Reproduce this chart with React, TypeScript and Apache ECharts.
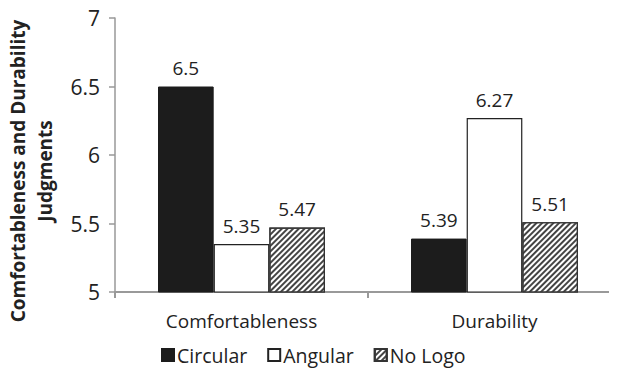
import React, { useEffect, useRef } from "react";
import * as echarts from "echarts";

const categories = ["Comfortableness", "Durability"];
const seriesNames = ["Circular", "Angular", "No Logo"];
const circular = [6.5, 5.39];
const angular = [5.35, 6.27];
const noLogo = [5.47, 5.51];
const yTicks = [5, 5.5, 6, 6.5, 7];
const yTitle = "Comfortableness and Durability\nJudgments";

const FONT = "'Open Sans', 'Liberation Sans', sans-serif";

export default function App() {
  const ref = useRef<HTMLDivElement>(null);
  useEffect(() => {
    if (!ref.current) return;
    const chart = echarts.init(ref.current, undefined, { renderer: "svg" });
    const labelCfg = {
      show: true,
      position: "top" as const,
      distance: 9,
      fontSize: 19,
      color: "#222",
      fontFamily: FONT,
    };
    chart.setOption({
      animation: false,
      textStyle: { fontFamily: FONT },
      legend: {
        bottom: 10,
        left: 156,
        itemWidth: 12,
        itemHeight: 12,
        itemGap: 20,
        icon: "rect",
        textStyle: { fontSize: 19.5, color: "#222", fontFamily: FONT, padding: [0, 0, 0, -2] },
        data: seriesNames,
      },
      grid: { left: 115, top: 18, width: 506, height: 274, containLabel: false, outerBoundsMode: "none" },
      graphic: [
        {
          type: "text",
          x: 31,
          y: 171,
          rotation: Math.PI / 2,
          style: {
            text: yTitle,
            fontSize: 19,
            fontWeight: "bold",
            fill: "#222",
            fontFamily: FONT,
            lineHeight: 27,
            align: "center",
            verticalAlign: "middle",
          },
        },
      ],
      xAxis: {
        type: "category",
        data: categories,
        axisLine: { show: true, lineStyle: { color: "#999", width: 2 } },
        axisTick: { show: true, length: 6, lineStyle: { color: "#999", width: 2 } },
        axisLabel: { fontSize: 19, color: "#222", margin: 19, fontFamily: FONT },
      },
      yAxis: {
        type: "value",
        min: yTicks[0],
        max: yTicks[yTicks.length - 1],
        interval: 0.5,
        axisLine: { show: true, lineStyle: { color: "#999", width: 1.5 } },
        axisTick: { show: true, length: 6, lineStyle: { color: "#999", width: 1.5 } },
        splitLine: { show: false },
        axisLabel: { fontSize: 21, color: "#222", margin: 15, fontFamily: FONT },
      },
      series: [
        {
          name: seriesNames[0],
          type: "bar",
          data: circular,
          barWidth: "22%",
          barGap: "0%",
          itemStyle: { color: "#1c1c1c", borderColor: "#1c1c1c", borderWidth: 1 },
          label: labelCfg,
        },
        {
          name: seriesNames[1],
          type: "bar",
          data: angular,
          barWidth: "22%",
          barGap: "0%",
          itemStyle: { color: "#ffffff", borderColor: "#222", borderWidth: 1.2 },
          label: labelCfg,
        },
        {
          name: seriesNames[2],
          type: "bar",
          data: noLogo,
          barWidth: "22%",
          barGap: "0%",
          itemStyle: {
            color: "#ffffff",
            borderColor: "#333",
            borderWidth: 1.2,
            decal: {
              symbol: "rect",
              symbolSize: 1,
              color: "#444",
              backgroundColor: "#ffffff",
              dashArrayX: [1, 0],
              dashArrayY: [2, 2],
              rotation: -Math.PI / 4,
            },
          },
          label: labelCfg,
        },
      ],
    });
    return () => chart.dispose();
  }, []);
  return <div ref={ref} style={{ width: 617, height: 380, margin: -8, background: "#fff" }} />;
}
